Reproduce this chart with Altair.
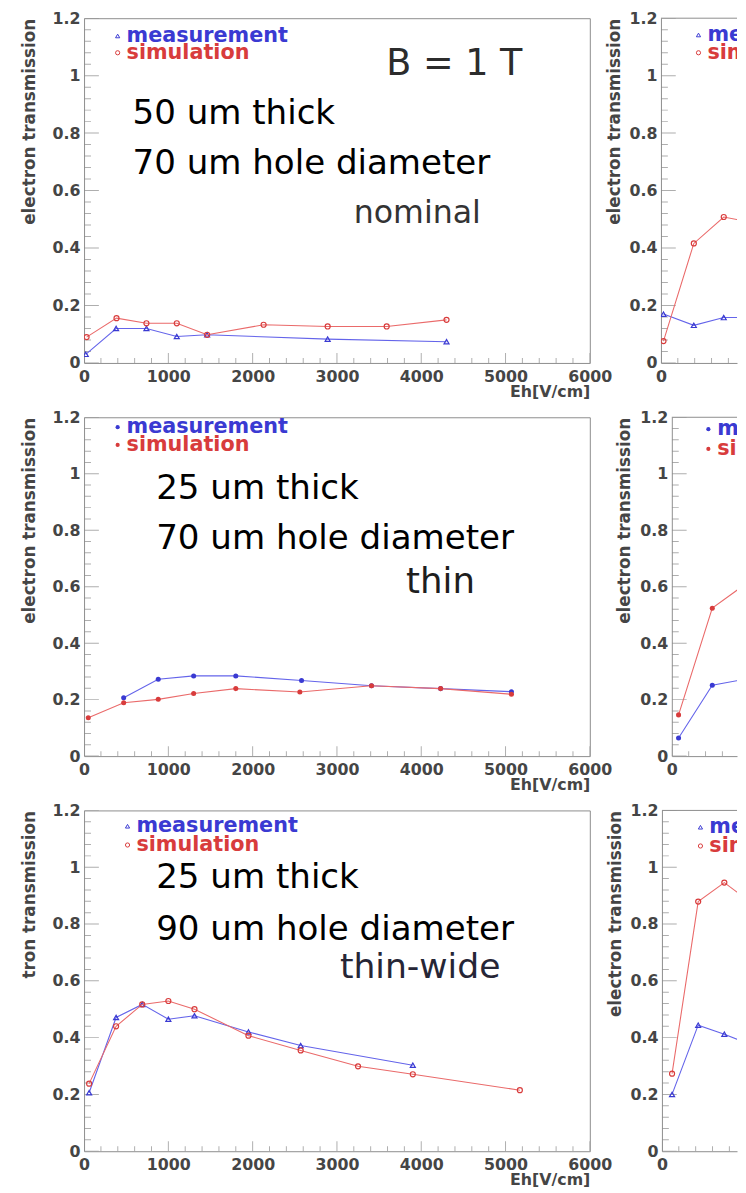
import altair as alt
import pandas as pd

# ---------------- data ----------------
SERIES = ["measurement", "simulation"]

# row 1, left: nominal (50 um thick, 70 um hole)
NOM_MEAS_EH = [20, 380, 740, 1100, 1460, 2890, 4300]
NOM_MEAS_T = [0.03, 0.12, 0.12, 0.092, 0.098, 0.083, 0.074]
NOM_SIM_EH = [30, 385, 740, 1100, 1460, 2130, 2890, 3590, 4300]
NOM_SIM_T = [0.09, 0.156, 0.138, 0.138, 0.098, 0.133, 0.127, 0.127, 0.15]

# row 1, right (cut off)
R1_MEAS_EH = [30, 390, 745, 1150]
R1_MEAS_T = [0.17, 0.131, 0.158, 0.158]
R1_SIM_EH = [30, 390, 745, 1150]
R1_SIM_T = [0.076, 0.416, 0.508, 0.485]

# row 2, left: thin (25 um thick, 70 um hole)
THIN_MEAS_EH = [470, 880, 1300, 1800, 2580, 3410, 4230, 5070]
THIN_MEAS_T = [0.207, 0.272, 0.284, 0.284, 0.268, 0.249, 0.239, 0.228]
THIN_SIM_EH = [50, 470, 880, 1300, 1800, 2560, 3410, 4230, 5070]
THIN_SIM_T = [0.136, 0.189, 0.201, 0.222, 0.239, 0.227, 0.249, 0.239, 0.219]

# row 2, right (cut off)
R2_MEAS_EH = [80, 480, 850, 1300]
R2_MEAS_T = [0.064, 0.251, 0.271, 0.28]
R2_SIM_EH = [80, 480, 840, 1300]
R2_SIM_T = [0.146, 0.524, 0.602, 0.65]

# row 3, left: thin-wide (25 um thick, 90 um hole)
TW_MEAS_EH = [60, 380, 690, 1000, 1310, 1950, 2570, 3900]
TW_MEAS_T = [0.206, 0.471, 0.517, 0.465, 0.477, 0.42, 0.372, 0.303]
TW_SIM_EH = [60, 380, 690, 1000, 1310, 1950, 2570, 3250, 3900, 5170]
TW_SIM_T = [0.238, 0.44, 0.517, 0.529, 0.5, 0.407, 0.355, 0.299, 0.271, 0.215]

# row 3, right (cut off)
R3_MEAS_EH = [120, 430, 740, 1100]
R3_MEAS_T = [0.2, 0.444, 0.412, 0.37]
R3_SIM_EH = [120, 430, 740, 1100]
R3_SIM_T = [0.273, 0.879, 0.946, 0.865]

X_LABELS = [0, 1000, 2000, 3000, 4000, 5000, 6000]
X_MINOR = list(range(0, 6001, 200))
Y_LABELS = [0, 0.2, 0.4, 0.6, 0.8, 1.0, 1.2]
Y_MINOR = [round(i * 0.04, 2) for i in range(31)]

NOTES_NOM = ["B = 1 T", "50 um thick", "70 um hole diameter", "nominal"]
NOTES_THIN = ["25 um thick", "70 um hole diameter", "thin"]
NOTES_TW = ["25 um thick", "90 um hole diameter", "thin-wide"]

Y_TITLE = "electron transmission"
Y_TITLE_CUT = "tron transmission"
X_TITLE = "Eh[V/cm]"

# ---------------- styling ----------------
FRAME = "#8c8c8c"
AXCOL = "#454545"
BLUE_PT = "#3a3ad2"
RED_PT = "#d83c3c"
BLUE_LN = "#6464ea"
RED_LN = "#ea6a6a"
FONT = "DejaVu Sans"
PX_PER_1000 = 512 / 6.0


def panel(meas, sim, width, height, left_col, shapes, filled, ytitle, ytitle_pad,
          legend_pos, notes, show_xtitle=True):
    xmax = width / PX_PER_1000 * 1000
    xs = alt.Scale(domain=[0, xmax], nice=False, zero=False)
    ys = alt.Scale(domain=[0, 1.2], nice=False, zero=False)

    xkw = dict(values=X_LABELS if left_col else [0], format="d", ticks=False,
               domain=not left_col, domainColor=FRAME, grid=False, labelFlush=False,
               labelOverlap=False, labelPadding=6, labelFont=FONT, labelFontSize=16,
               labelFontWeight="bold", labelColor=AXCOL)
    if show_xtitle:
        xkw.update(title=X_TITLE, titleAnchor="end", titleAlign="right", titlePadding=-1,
                   titleFont=FONT, titleFontSize=16, titleFontWeight="bold",
                   titleColor=AXCOL)
    else:
        xkw.update(title="")
    xaxis = alt.Axis(**xkw)
    yaxis = alt.Axis(values=Y_LABELS, format="~g", ticks=False, domain=not left_col,
                     domainColor=FRAME, grid=False, labelPadding=4, labelFont=FONT,
                     labelFontSize=16, labelFontWeight="bold", labelColor=AXCOL,
                     title=ytitle, titleAnchor="end", titleFont=FONT, titleFontSize=17,
                     titleFontWeight="bold", titleColor=AXCOL, titlePadding=ytitle_pad)

    def X():
        return alt.X("Eh:Q", scale=xs, axis=xaxis)

    def Y():
        return alt.Y("T:Q", scale=ys, axis=yaxis)

    layers = []
    # inward ROOT-style ticks
    xmaj = pd.DataFrame({"Eh": [v for v in X_LABELS]})
    xmin = pd.DataFrame({"Eh": [v for v in X_MINOR if v not in X_LABELS]})
    ymaj = pd.DataFrame({"T": Y_LABELS})
    ymin = pd.DataFrame({"T": [v for v in Y_MINOR if v not in Y_LABELS]})
    layers.append(alt.Chart(xmaj).mark_tick(orient="vertical", size=10, thickness=1,
                                            color=FRAME, clip=True)
                  .encode(x=X(), y=alt.value(height - 5)))
    layers.append(alt.Chart(xmin).mark_tick(orient="vertical", size=5, thickness=1,
                                            color=FRAME, clip=True)
                  .encode(x=X(), y=alt.value(height - 2.5)))
    layers.append(alt.Chart(ymaj).mark_tick(orient="horizontal", size=15, thickness=1,
                                            color=FRAME, clip=True)
                  .encode(y=Y(), x=alt.value(7.5)))
    layers.append(alt.Chart(ymin).mark_tick(orient="horizontal", size=7, thickness=1,
                                            color=FRAME, clip=True)
                  .encode(y=Y(), x=alt.value(3.5)))

    if not left_col:
        layers.append(alt.Chart(pd.DataFrame({"k": [0]})).mark_rule(color=FRAME, strokeWidth=1)
                      .encode(x=alt.value(0), x2=alt.value(width), y=alt.value(0)))

    # series
    for (eh, t), ln, pt, shp, fil in [(meas, BLUE_LN, BLUE_PT, shapes[0], filled[0]),
                                      (sim, RED_LN, RED_PT, shapes[1], filled[1])]:
        df = pd.DataFrame({"Eh": eh, "T": t})
        layers.append(alt.Chart(df).mark_line(color=ln, strokeWidth=1.1, clip=True)
                      .encode(x=X(), y=Y()))
        layers.append(alt.Chart(df).mark_point(shape=shp, filled=fil, color=pt, size=26,
                                               strokeWidth=1.2, opacity=1, clip=True)
                      .encode(x=X(), y=Y()))

    # legend (top-left inside the frame)
    lx, ly0, ly1 = legend_pos
    for name, ly, col, shp, fil in [(SERIES[0], ly0, BLUE_PT, shapes[0], filled[0]),
                                    (SERIES[1], ly1, RED_PT, shapes[1], filled[1])]:
        d = pd.DataFrame({"series": [name]})
        layers.append(alt.Chart(d).mark_point(shape=shp, filled=fil, color=col, size=18,
                                              strokeWidth=1, opacity=1, clip=True)
                      .encode(x=alt.value(lx), y=alt.value(ly)))
        layers.append(alt.Chart(d).mark_text(align="left", baseline="middle", font=FONT,
                                             fontSize=21, fontWeight="bold", color=col,
                                             clip=True)
                      .encode(text="series:N", x=alt.value(lx + 9), y=alt.value(ly)))

    # annotations
    for txt, nx, ny, fsize, col in notes:
        d = pd.DataFrame({"label": [txt]})
        layers.append(alt.Chart(d).mark_text(align="left", baseline="middle", font=FONT,
                                             fontSize=fsize, color=col, clip=True)
                      .encode(text="label:N", x=alt.value(nx), y=alt.value(ny)))

    ch = alt.layer(*layers).properties(width=width, height=height)
    if not left_col:
        ch = ch.properties(view=alt.ViewBackground(stroke="transparent"))
    return ch


TRI = ("triangle-up", "circle")
OPEN = (False, False)
DOT = ("circle", "circle")
FILL = (True, True)
W = 512
H1, H2, H3 = 349, 343, 345

p11 = panel((NOM_MEAS_EH, NOM_MEAS_T), (NOM_SIM_EH, NOM_SIM_T), W, H1, True, TRI, OPEN,
            Y_TITLE, 14, (34, 18, 35),
            [(NOTES_NOM[0], 306, 47, 37, "#2c2c2c"),
             (NOTES_NOM[1], 49, 97, 34.5, "black"),
             (NOTES_NOM[2], 49, 148, 34.5, "black"),
             (NOTES_NOM[3], 273, 197, 32, "#333333")])
p12 = panel((R1_MEAS_EH, R1_MEAS_T), (R1_SIM_EH, R1_SIM_T), 77, H1, False, TRI, OPEN,
            Y_TITLE, 6, (38, 17, 35), [], show_xtitle=False)

p21 = panel((THIN_MEAS_EH, THIN_MEAS_T), (THIN_SIM_EH, THIN_SIM_T), W, H2, True, DOT, FILL,
            Y_TITLE, 14, (34, 10, 28),
            [(NOTES_THIN[0], 73, 73, 34.5, "black"),
             (NOTES_THIN[1], 73, 123, 34.5, "black"),
             (NOTES_THIN[2], 326, 167, 36, "#1e1e1e")])
p22 = panel((R2_MEAS_EH, R2_MEAS_T), (R2_SIM_EH, R2_SIM_T), 66, H2, False, DOT, FILL,
            Y_TITLE, 6, (37, 12, 32), [], show_xtitle=False)

p31 = panel((TW_MEAS_EH, TW_MEAS_T), (TW_SIM_EH, TW_SIM_T), W, H3, True, TRI, OPEN,
            Y_TITLE_CUT, 14, (44, 16, 35),
            [(NOTES_TW[0], 73, 69, 34.5, "black"),
             (NOTES_TW[1], 73, 121, 34.5, "black"),
             (NOTES_TW[2], 259, 159, 35, "#262636")])
p32 = panel((R3_MEAS_EH, R3_MEAS_T), (R3_SIM_EH, R3_SIM_T), 76, H3, False, TRI, OPEN,
            Y_TITLE, 6, (39, 17, 36), [], show_xtitle=False)

chart = alt.vconcat(
    alt.hconcat(p11, p12, spacing=72, bounds="flush"),
    alt.hconcat(p21, p22, spacing=83, bounds="flush"),
    alt.hconcat(p31, p32, spacing=73, bounds="flush"),
    spacing=8,
).properties(
    padding={"left": 12, "top": -6, "right": 0, "bottom": 0},
    background="white",
).configure_view(stroke=FRAME, strokeWidth=1)

chart.save("out.html", embed_options={"renderer": "svg", "actions": False})
